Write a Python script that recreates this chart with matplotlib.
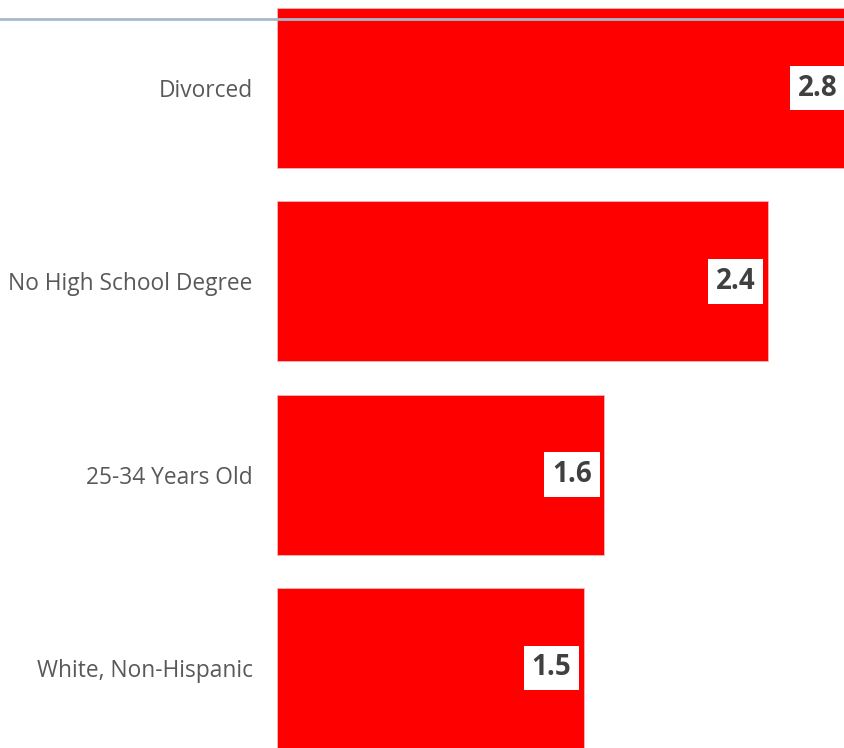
import matplotlib
matplotlib.use("Agg")
import matplotlib.pyplot as plt
from matplotlib.lines import Line2D

categories = ["Divorced", "No High School Degree", "25-34 Years Old", "White, Non-Hispanic"]
values = [2.8, 2.4, 1.6, 1.5]
value_labels = ["2.8", "2.4", "1.6", "1.5"]

W, H = 844, 748
fig = plt.figure(figsize=(W / 100, H / 100), dpi=100)
fig.patch.set_facecolor("white")

left_px = 277
ax = fig.add_axes([left_px / W, 0, 1 - left_px / W, 1])

pitch = 193.3
c0 = 88
ypos = list(range(len(categories)))
ax.barh(ypos, values, height=160 / pitch, color="#ff0000", edgecolor="#f2b8b8", linewidth=0.6)

ax.set_ylim((H - c0) / pitch, -c0 / pitch)
scale = (768 - left_px) / 2.4
xmax = (W - left_px) / scale
ax.set_xlim(0, xmax)

for s in ax.spines.values():
    s.set_visible(False)
ax.set_xticks([])
ax.set_yticks(ypos)
ax.set_yticklabels(categories, fontfamily="Open Sans", fontsize=16.4, color="#595959")
ax.tick_params(axis="y", length=0, pad=17.5)

for y, v, lab in zip(ypos, values, value_labels):
    xe = min(v, xmax + 6 / scale)
    ax.text(xe - 12.5 / scale, y, lab, ha="right", va="center", fontfamily="Open Sans",
            fontweight="bold", fontsize=20, color="#404040",
            bbox=dict(boxstyle="square,pad=0.28", facecolor="white", edgecolor="none"))

fig.add_artist(Line2D([0, 1], [1 - 18.5 / H, 1 - 18.5 / H], transform=fig.transFigure,
                      color="#a5b9cc", linewidth=2))

fig.savefig("out.png", dpi=100, facecolor="white")
